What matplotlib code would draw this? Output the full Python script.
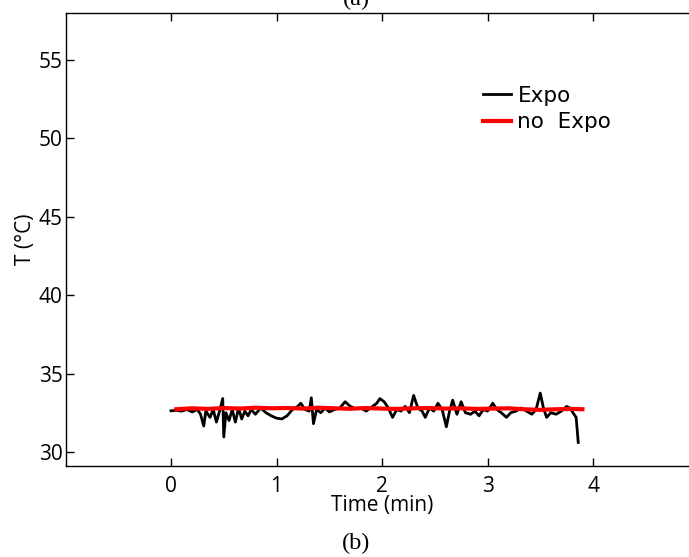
import numpy as np
import matplotlib.pyplot as plt

# time (min) and temperature (°C)
t_expo = [0.00, 0.05, 0.10, 0.15, 0.20, 0.25, 0.28, 0.31, 0.33, 0.37,
          0.40, 0.43, 0.46, 0.49, 0.50, 0.52, 0.55, 0.58, 0.61, 0.64,
          0.67, 0.70, 0.73, 0.76, 0.80, 0.85, 0.90, 0.95, 1.00, 1.05,
          1.10, 1.15, 1.20, 1.23, 1.27, 1.31, 1.33, 1.35, 1.38, 1.42,
          1.46, 1.50, 1.55, 1.60, 1.65, 1.70, 1.75, 1.80, 1.85, 1.90,
          1.95, 1.98, 2.02, 2.06, 2.10, 2.14, 2.18, 2.22, 2.26, 2.30,
          2.34, 2.38, 2.41, 2.45, 2.49, 2.53, 2.57, 2.61, 2.64, 2.67,
          2.71, 2.75, 2.79, 2.84, 2.88, 2.92, 2.96, 3.00, 3.05, 3.09,
          3.13, 3.18, 3.22, 3.27, 3.32, 3.37, 3.42, 3.46, 3.50, 3.53,
          3.56, 3.60, 3.65, 3.70, 3.75, 3.78, 3.82, 3.84, 3.86]
T_expo = [32.62, 32.65, 32.60, 32.70, 32.55, 32.70, 32.40, 31.65, 32.60, 32.20,
          32.70, 31.90, 32.60, 33.40, 30.95, 32.50, 32.00, 32.70, 31.90, 32.80,
          32.10, 32.60, 32.30, 32.70, 32.40, 32.80, 32.50, 32.30, 32.15, 32.10,
          32.30, 32.70, 32.90, 33.10, 32.70, 32.60, 33.45, 31.80, 32.70, 32.50,
          32.80, 32.55, 32.70, 32.80, 33.20, 32.90, 32.75, 32.80, 32.60, 32.85,
          33.10, 33.40, 33.20, 32.80, 32.20, 32.70, 32.60, 32.90, 32.50, 33.60,
          32.80, 32.60, 32.20, 32.80, 32.60, 33.10, 32.70, 31.60, 32.60, 33.30,
          32.40, 33.20, 32.50, 32.40, 32.60, 32.30, 32.70, 32.60, 33.10, 32.70,
          32.50, 32.20, 32.50, 32.60, 32.80, 32.60, 32.40, 32.70, 33.75, 32.80,
          32.20, 32.50, 32.40, 32.60, 32.90, 32.80, 32.40, 32.20, 30.60]

t_noexpo = [0.05, 0.20, 0.35, 0.50, 0.65, 0.80, 0.95, 1.10, 1.25, 1.40,
            1.55, 1.70, 1.85, 2.00, 2.15, 2.30, 2.45, 2.60, 2.75, 2.90,
            3.05, 3.20, 3.35, 3.50, 3.65, 3.80, 3.90]
T_noexpo = [32.72, 32.78, 32.74, 32.80, 32.76, 32.82, 32.78, 32.80, 32.76, 32.82,
            32.78, 32.75, 32.80, 32.76, 32.74, 32.78, 32.80, 32.76, 32.78, 32.74,
            32.76, 32.78, 32.72, 32.68, 32.72, 32.74, 32.72]

x_ticks = [0, 1, 2, 3, 4]
y_ticks = [30, 35, 40, 45, 50, 55]

tick_font = {'family': ['Open Sans', 'DejaVu Sans'], 'size': 15}

fig = plt.figure(figsize=(6.89, 5.57), dpi=100)
# axes run past the right edge of the picture, like the cropped original
ax = fig.add_axes([0.0951, 0.1634, 0.9187, 0.8133])

ax.plot(t_expo, T_expo, color='black', lw=2.0, label='Expo')
ax.plot(t_noexpo, T_noexpo, color='red', lw=3.0, label='no  Expo')

ax.set_xlim(-1, 5)
ax.set_ylim(29.1, 58.0)
ax.set_xticks(x_ticks)
ax.set_yticks(y_ticks)
ax.tick_params(direction='in', length=6, width=1, top=True, right=True)
for lab in ax.get_xticklabels() + ax.get_yticklabels():
    lab.set_fontfamily(tick_font['family'])
    lab.set_fontsize(tick_font['size'])
ax.tick_params(axis='x', pad=7)
ax.tick_params(axis='y', pad=2)
for sp in ax.spines.values():
    sp.set_linewidth(1.0)

ax.set_xlabel('Time (min)', fontdict=tick_font, labelpad=-1)
ax.set_ylabel('T (°C)', fontdict=tick_font, labelpad=2)

ax.legend(loc='center left', bbox_to_anchor=(0.629, 0.788), frameon=False,
          handlelength=1.3, handletextpad=0.3, labelspacing=0.3,
          prop={'family': 'DejaVu Sans', 'size': 15.5})

fig.text(0.517, 0.991, '(a)', ha='center', va='baseline',
         family='Liberation Serif', size=17.5)
fig.text(0.517, 0.025, '(b)', ha='center', va='center',
         family='Liberation Serif', size=17.5)

fig.savefig('out.png', dpi=100)
